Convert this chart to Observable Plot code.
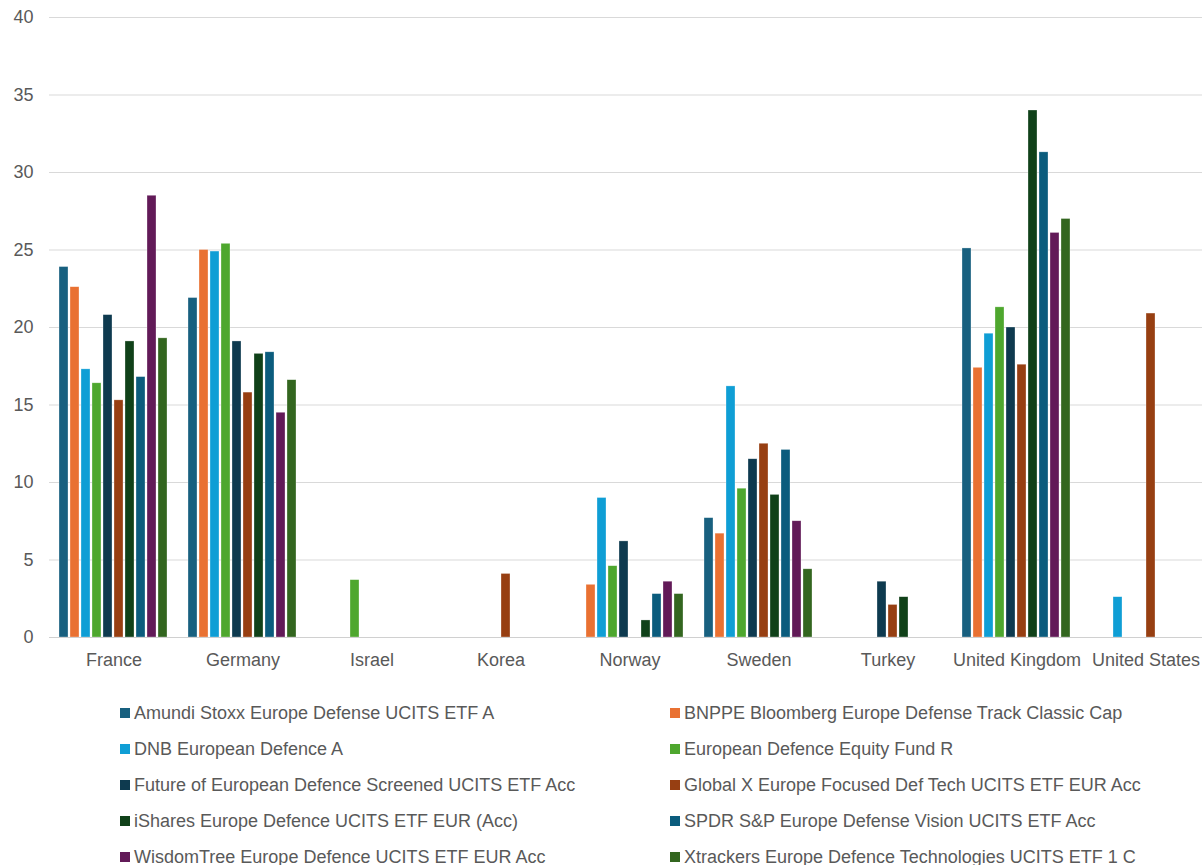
<!DOCTYPE html>
<html>
<head>
<meta charset="utf-8">
<script src="https://cdn.jsdelivr.net/npm/d3@7"></script>
<script src="https://cdn.jsdelivr.net/npm/@observablehq/plot@0.6"></script>
<style>
  html, body { margin: 0; padding: 0; background: #fff; overflow: hidden; }
  body { width: 1202px; font-family: "Liberation Sans", Arial, sans-serif; color: #595959; }
  #chart { width: 1202px; overflow: hidden; }
  #chart svg { display: block; max-width: none !important; }
  #legend {
    display: grid;
    grid-template-columns: 550px auto;
    margin-left: 120px;
    padding-top: 15px;
    font-size: 18px;
  }
  .item { height: 36px; display: flex; align-items: center; white-space: nowrap; }
  .sw { width: 10px; height: 10px; margin-right: 4px; flex: none; }
</style>
</head>
<body>
<div id="chart"></div>
<div id="legend"></div>
<script>
// Countries on the category axis
const countries = ["France", "Germany", "Israel", "Korea", "Norway", "Sweden", "Turkey", "United Kingdom", "United States"];

// Fund names, in series order
const funds = [
  "Amundi Stoxx Europe Defense UCITS ETF A",
  "BNPPE Bloomberg Europe Defense Track Classic Cap",
  "DNB European Defence A",
  "European Defence Equity Fund R",
  "Future of European Defence Screened UCITS ETF Acc",
  "Global X Europe Focused Def Tech UCITS ETF EUR Acc",
  "iShares Europe Defence UCITS ETF EUR (Acc)",
  "SPDR S&P Europe Defense Vision UCITS ETF Acc",
  "WisdomTree Europe Defence UCITS ETF EUR Acc",
  "Xtrackers Europe Defence Technologies UCITS ETF 1 C"
];

// Country weights (%) per fund, same order as countries; null = no exposure
const amundi     = [23.9, 21.9, null, null, null,  7.7, null, 25.1, null];
const bnppe      = [22.6, 25.0, null, null,  3.4,  6.7, null, 17.4, null];
const dnb        = [17.3, 24.9, null, null,  9.0, 16.2, null, 19.6,  2.6];
const edef       = [16.4, 25.4,  3.7, null,  4.6,  9.6, null, 21.3, null];
const futureDef  = [20.8, 19.1, null, null,  6.2, 11.5,  3.6, 20.0, null];
const globalX    = [15.3, 15.8, null,  4.1, null, 12.5,  2.1, 17.6, 20.9];
const ishares    = [19.1, 18.3, null, null,  1.1,  9.2,  2.6, 34.0, null];
const spdr       = [16.8, 18.4, null, null,  2.8, 12.1, null, 31.3, null];
const wisdomTree = [28.5, 14.5, null, null,  3.6,  7.5, null, 26.1, null];
const xtrackers  = [19.3, 16.6, null, null,  2.8,  4.4, null, 27.0, null];

const series = [amundi, bnppe, dnb, edef, futureDef, globalX, ishares, spdr, wisdomTree, xtrackers];

const colors = ["#18607f", "#e97132", "#0f9ed5", "#4ea72e", "#0e3a4f", "#973f12", "#104119", "#0b5c7d", "#621a58", "#33661f"];

const yTicks = [0, 5, 10, 15, 20, 25, 30, 35, 40];

// Long table: one row per (country, fund) with a value
const rows = [];
series.forEach((vals, i) => {
  vals.forEach((v, j) => {
    if (v != null) rows.push({country: countries[j], fund: funds[i], value: v});
  });
});

// The category bands run a little past the right edge of the page
const chart = Plot.plot({
  width: 1212,
  height: 680,
  marginTop: 17,
  marginBottom: 43,
  marginLeft: 47,
  marginRight: 0,
  style: {fontFamily: "'Liberation Sans', Arial, sans-serif", fontSize: "18px", color: "#595959", background: "white", maxWidth: "none"},
  fx: {domain: countries, padding: 0, label: null},
  x: {domain: funds, paddingInner: 0.16, paddingOuter: 0.72, axis: null},
  y: {domain: [0, 40], label: null},
  color: {domain: funds, range: colors},
  marks: [
    Plot.gridY(yTicks, {stroke: "#d9d9d9", strokeOpacity: 1}),
    Plot.axisY(yTicks, {tickSize: 0, tickPadding: 16, fontSize: 18, fill: "#595959", label: null}),
    Plot.axisFx({anchor: "bottom", tickSize: 0, tickPadding: 16, fontSize: 18, fill: "#595959", label: null}),
    Plot.barY(rows, {fx: "country", x: "fund", y: "value", fill: "fund", stroke: "#ffffff", strokeOpacity: 0.5, strokeWidth: 0.6}),
    Plot.ruleY([0], {stroke: "#d0d0d0"})
  ]
});
document.getElementById("chart").appendChild(chart);

// Legend: two columns, row by row
const legend = document.getElementById("legend");
funds.forEach((f, i) => {
  const item = document.createElement("div");
  item.className = "item";
  const sw = document.createElement("span");
  sw.className = "sw";
  sw.style.background = colors[i];
  const label = document.createElement("span");
  label.textContent = f;
  item.appendChild(sw);
  item.appendChild(label);
  legend.appendChild(item);
});
</script>
</body>
</html>
